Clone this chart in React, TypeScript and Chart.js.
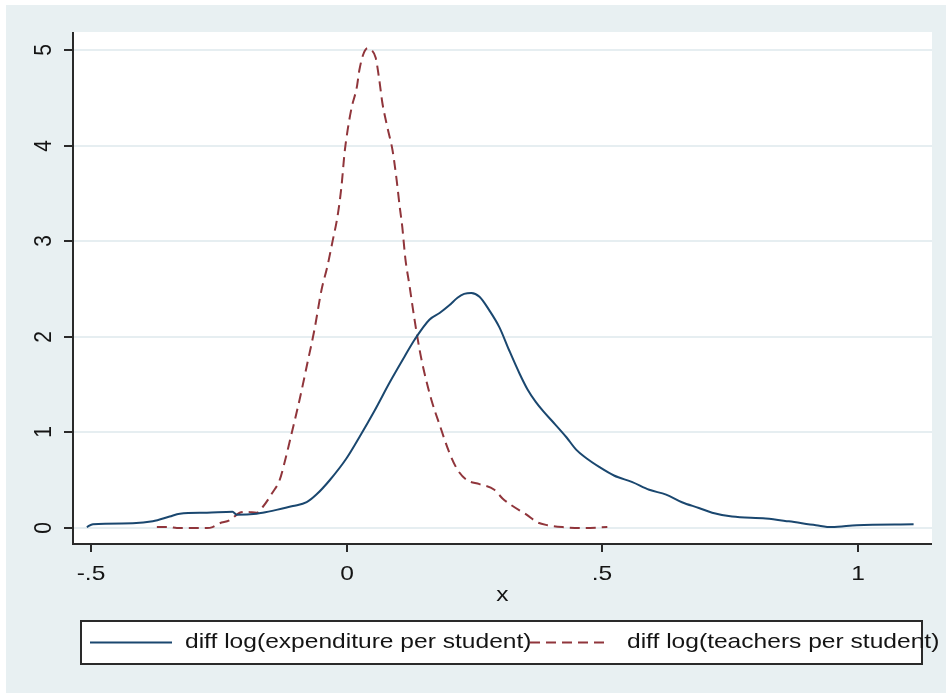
import React, { useEffect, useRef } from "react";
import { Chart, registerables } from "chart.js";

Chart.register(...registerables);

// Kernel density: diff log(expenditure per student)
const expX = [-0.508, -0.496, -0.418, -0.379, -0.346, -0.326, -0.273, -0.223, -0.215, -0.176, -0.164, -0.137, -0.105, -0.078, -0.059, -0.033, 0.0, 0.025, 0.055, 0.084, 0.113, 0.133, 0.162, 0.182, 0.201, 0.217, 0.23, 0.244, 0.26, 0.279, 0.299, 0.318, 0.338, 0.354, 0.37, 0.385, 0.402, 0.43, 0.449, 0.469, 0.494, 0.523, 0.559, 0.592, 0.625, 0.656, 0.689, 0.715, 0.754, 0.82, 0.865, 0.918, 0.949, 0.998, 1.109];
const expY = [0.01, 0.04, 0.05, 0.07, 0.12, 0.15, 0.16, 0.17, 0.14, 0.15, 0.16, 0.19, 0.23, 0.27, 0.35, 0.5, 0.73, 0.95, 1.23, 1.52, 1.79, 1.97, 2.18, 2.25, 2.33, 2.41, 2.45, 2.46, 2.42, 2.28, 2.1, 1.86, 1.62, 1.45, 1.32, 1.22, 1.12, 0.95, 0.82, 0.73, 0.64, 0.55, 0.48, 0.4, 0.35, 0.27, 0.21, 0.16, 0.12, 0.1, 0.07, 0.03, 0.01, 0.03, 0.04];

// Kernel density: diff log(teachers per student)
const teachX = [-0.371, -0.346, -0.332, -0.273, -0.262, -0.248, -0.229, -0.209, -0.195, -0.176, -0.164, -0.145, -0.131, -0.121, -0.107, -0.092, -0.076, -0.063, -0.049, -0.037, -0.027, -0.018, -0.01, -0.004, 0.002, 0.01, 0.02, 0.025, 0.033, 0.041, 0.049, 0.057, 0.064, 0.07, 0.08, 0.09, 0.098, 0.104, 0.109, 0.115, 0.123, 0.133, 0.143, 0.152, 0.166, 0.182, 0.201, 0.217, 0.236, 0.26, 0.289, 0.305, 0.322, 0.352, 0.373, 0.393, 0.422, 0.461, 0.51];
const teachY = [0.01, 0.01, 0.0, 0.0, 0.01, 0.05, 0.08, 0.16, 0.17, 0.16, 0.22, 0.37, 0.5, 0.69, 1.0, 1.34, 1.74, 2.07, 2.49, 2.75, 3.01, 3.25, 3.57, 3.92, 4.16, 4.4, 4.61, 4.79, 4.96, 5.02, 5.0, 4.92, 4.69, 4.45, 4.19, 3.95, 3.64, 3.36, 3.15, 2.82, 2.54, 2.18, 1.86, 1.63, 1.34, 1.08, 0.79, 0.61, 0.5, 0.46, 0.4, 0.31, 0.24, 0.14, 0.06, 0.03, 0.01, 0.0, 0.01];

const seriesLabels = ["diff log(expenditure per student)", "diff log(teachers per student)"];
const xTicks = [-0.5, 0, 0.5, 1];
const xTickLabels = ["-.5", "0", ".5", "1"];
const yTicks = [0, 1, 2, 3, 4, 5];
const yTickLabels = ["0", "1", "2", "3", "4", "5"];
const xTitle = "x";

const BLUE = "#1A476F";
const RED = "#90353B";
const BG = "#E8F0F2";
const GRID = "#E6EEF1";
const AXIS = "#2a2a2a";
const TEXT = "#141414";
const FONT = '"Liberation Sans", Arial, sans-serif';
const SX = 1.17;

function stretchText(ctx: CanvasRenderingContext2D, text: string, x: number, y: number, size: number, align: CanvasTextAlign, rotate = false) {
  ctx.save();
  ctx.translate(x, y);
  ctx.scale(SX, 1);
  if (rotate) ctx.rotate(-Math.PI / 2);
  ctx.font = `${size}px ${FONT}`;
  ctx.fillStyle = TEXT;
  ctx.textAlign = align;
  ctx.textBaseline = "middle";
  ctx.fillText(text, 0, 0);
  ctx.restore();
}

const stataPlugin = {
  id: "stataLook",
  beforeDraw(chart: any) {
    const { ctx, chartArea: a, scales } = chart;
    ctx.save();
    ctx.fillStyle = "#ffffff";
    ctx.fillRect(0, 0, chart.width, chart.height);
    ctx.fillStyle = BG;
    ctx.fillRect(6, 5, chart.width - 6, chart.height - 5);
    ctx.fillStyle = "#ffffff";
    ctx.fillRect(a.left, a.top, a.right - a.left, a.bottom - a.top);
    ctx.strokeStyle = GRID;
    ctx.lineWidth = 2;
    for (const v of yTicks) {
      const py = Math.round(scales.y.getPixelForValue(v));
      ctx.beginPath();
      ctx.moveTo(a.left, py);
      ctx.lineTo(a.right, py);
      ctx.stroke();
    }
    ctx.restore();
  },
  afterDraw(chart: any) {
    const { ctx, chartArea: a, scales } = chart;
    ctx.save();
    ctx.strokeStyle = AXIS;
    ctx.lineWidth = 2;
    ctx.beginPath();
    ctx.moveTo(a.left, a.top);
    ctx.lineTo(a.left, a.bottom);
    ctx.lineTo(a.right, a.bottom);
    ctx.stroke();
    yTicks.forEach((v, i) => {
      const py = Math.round(scales.y.getPixelForValue(v));
      ctx.beginPath();
      ctx.moveTo(a.left - 9, py);
      ctx.lineTo(a.left, py);
      ctx.stroke();
      stretchText(ctx, yTickLabels[i], a.left - 29, py, 21, "center", true);
    });
    xTicks.forEach((v, i) => {
      const px = Math.round(scales.x.getPixelForValue(v));
      ctx.beginPath();
      ctx.moveTo(px, a.bottom);
      ctx.lineTo(px, a.bottom + 8);
      ctx.stroke();
      stretchText(ctx, xTickLabels[i], px, a.bottom + 30, 21, "center");
    });
    stretchText(ctx, xTitle, (a.left + a.right) / 2, a.bottom + 51, 21, "center");

    const lx = 81, ly = 621, lw = 841, lh = 43;
    ctx.fillStyle = "#ffffff";
    ctx.fillRect(lx, ly, lw, lh);
    ctx.strokeStyle = AXIS;
    ctx.lineWidth = 2;
    ctx.strokeRect(lx, ly, lw, lh);
    const cy = ly + lh / 2;
    const ds = chart.data.datasets;
    const items = [
      { x0: 90, x1: 172, tx: 185 },
      { x0: 530, x1: 608, tx: 627 },
    ];
    items.forEach((it, i) => {
      ctx.save();
      ctx.strokeStyle = ds[i].borderColor;
      ctx.lineWidth = ds[i].borderWidth;
      ctx.setLineDash(ds[i].borderDash || []);
      ctx.beginPath();
      ctx.moveTo(it.x0, cy);
      ctx.lineTo(it.x1, cy);
      ctx.stroke();
      ctx.restore();
      stretchText(ctx, seriesLabels[i], it.tx, cy, 21, "left");
    });
    ctx.restore();
  },
};

export default function App() {
  const ref = useRef<HTMLCanvasElement>(null);
  useEffect(() => {
    document.body.style.margin = "0";
    const canvas = ref.current!;
    const chart = new Chart(canvas, {
      type: "line",
      data: {
        datasets: [
          {
            label: seriesLabels[0],
            data: expX.map((x, i) => ({ x, y: expY[i] })),
            borderColor: BLUE,
            borderWidth: 2,
            pointRadius: 0,
            cubicInterpolationMode: "monotone",
            fill: false,
          },
          {
            label: seriesLabels[1],
            data: teachX.map((x, i) => ({ x, y: teachY[i] })),
            borderColor: RED,
            borderWidth: 2,
            borderDash: [10, 6],
            pointRadius: 0,
            cubicInterpolationMode: "monotone",
            fill: false,
          },
        ],
      },
      options: {
        animation: false,
        responsive: false,
        maintainAspectRatio: false,
        layout: { padding: { left: 73, top: 32, right: 14, bottom: 149 } },
        plugins: { legend: { display: false }, tooltip: { enabled: false } },
        scales: {
          x: { type: "linear", display: false, min: -0.535, max: 1.145 },
          y: { type: "linear", display: false, min: -0.167, max: 5.19 },
        },
      },
      plugins: [stataPlugin],
    } as any);
    return () => chart.destroy();
  }, []);
  return (
    <div style={{ width: 946, height: 693 }}>
      <canvas ref={ref} width={946} height={693} style={{ display: "block", width: 946, height: 693 }} />
    </div>
  );
}
